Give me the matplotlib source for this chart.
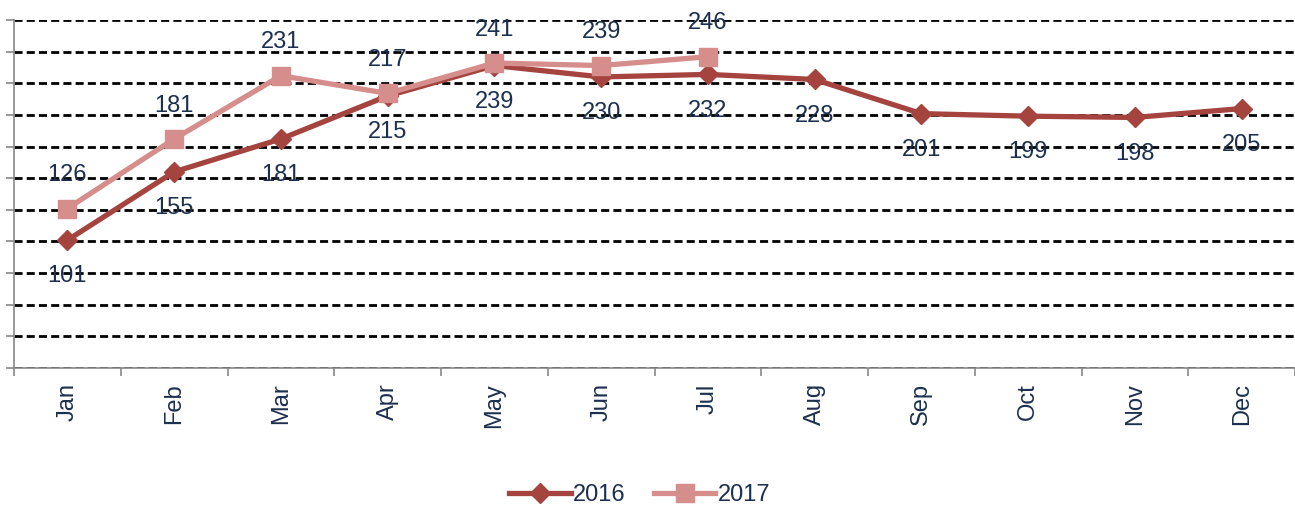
import matplotlib.pyplot as plt

plt.rcParams['font.family'] = ['Liberation Sans', 'DejaVu Sans']

months = ["Jan", "Feb", "Mar", "Apr", "May", "Jun", "Jul", "Aug", "Sep", "Oct", "Nov", "Dec"]
vals_2016 = [101, 155, 181, 215, 239, 230, 232, 228, 201, 199, 198, 205]
vals_2017 = [126, 181, 231, 217, 241, 239, 246]

c16 = "#A5443F"
c17 = "#D58E8C"
txt = "#1B2F4F"

fig = plt.figure(figsize=(12.95, 5.05), dpi=100)
ax = fig.add_axes([14 / 1295, 137 / 505, 1281 / 1295, 348 / 505])

x16 = list(range(len(vals_2016)))
x17 = list(range(len(vals_2017)))

ax.plot(x16, vals_2016, color=c16, lw=3.8, marker="D", ms=10, label="2016", zorder=3)
ax.plot(x17, vals_2017, color=c17, lw=3.8, marker="s", ms=13.5, label="2017", zorder=4)

for x, v in zip(x16, vals_2016):
    ax.annotate(str(v), (x, v), xytext=(0, -26), textcoords="offset points",
                ha="center", va="center", fontsize=17, color=txt, zorder=5)
for x, v in zip(x17, vals_2017):
    ax.annotate(str(v), (x, v), xytext=(0, 24), textcoords="offset points",
                ha="center", va="center", fontsize=17, color=txt, zorder=5)

ax.set_ylim(0, 275)
ax.set_xlim(-0.5, 11.5)
ax.set_yticks(range(0, 276, 25))
ax.set_yticklabels([])
ax.yaxis.grid(True, color="black", lw=2.0, linestyle=(0, (2.9, 1.5)))
ax.set_axisbelow(True)

ax.set_xticks(x16)
ax.set_xticklabels(months, rotation=90, fontsize=17, color=txt)
ax.set_xticks([i - 0.5 for i in range(13)], minor=True)
ax.tick_params(axis="x", which="major", length=0, pad=11)
ax.tick_params(axis="x", which="minor", length=6, color="#888888", width=1.2)
ax.tick_params(axis="y", length=6, color="#888888", width=1.2)

for s in ["top", "right"]:
    ax.spines[s].set_visible(False)
for s in ["left", "bottom"]:
    ax.spines[s].set_color("#888888")
    ax.spines[s].set_linewidth(1.2)

fig.legend(loc="center", bbox_to_anchor=(0.494, 0.02), ncol=2, frameon=False,
           fontsize=17, handlelength=2.6, columnspacing=1.2, handletextpad=0.1,
           labelcolor=txt)

fig.savefig("out.png", dpi=100)
